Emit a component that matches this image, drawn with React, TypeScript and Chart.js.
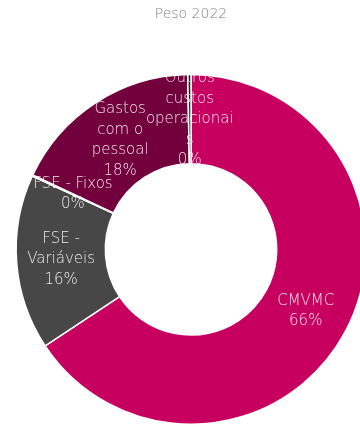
import React, { useEffect, useRef } from "react";
import { Chart, registerables } from "chart.js";

Chart.register(...registerables);

const categories = [
  "CMVMC",
  "FSE - Variáveis",
  "FSE - Fixos",
  "Gastos com o pessoal",
  "Outros custos operacionais",
];
const values = [65.7, 16.2, 0.1, 17.7, 0.3];
const percentLabels = ["66%", "16%", "0%", "18%", "0%"];
const wrappedLabels = [
  ["CMVMC"],
  ["FSE -", "Variáveis"],
  ["FSE - Fixos"],
  ["Gastos", "com o", "pessoal"],
  ["Outros", "custos", "operacionai", "s"],
];
const colors = ["#C70060", "#474747", "#E8E8E8", "#72003C", "#1E1E1E"];
const titleText = "Peso 2022";

const FONT = "'DejaVu Sans', sans-serif";

const labelPlugin = {
  id: "sliceLabels",
  afterDatasetsDraw(chart: any) {
    const ctx = chart.ctx;
    const meta = chart.getDatasetMeta(0);
    ctx.save();
    ctx.font = `200 15px ${FONT}`;
    ctx.fillStyle = "rgba(255,255,255,0.88)";
    ctx.textAlign = "center";
    ctx.textBaseline = "middle";
    const lh = 20.5;
    meta.data.forEach((arc: any, i: number) => {
      const p = arc.tooltipPosition();
      const lines = [...wrappedLabels[i], percentLabels[i]];
      const startY = p.y - ((lines.length - 1) * lh) / 2;
      lines.forEach((ln, k) => {
        ctx.fillText(ln, p.x, startY + k * lh);
      });
    });
    ctx.restore();
  },
};

export default function App() {
  const ref = useRef<HTMLCanvasElement | null>(null);
  useEffect(() => {
    if (!ref.current) return;
    const chart = new Chart(ref.current, {
      type: "doughnut",
      data: {
        labels: categories,
        datasets: [
          {
            data: values,
            backgroundColor: colors,
            borderColor: "#ffffff",
            borderWidth: 1.5,
          },
        ],
      },
      options: {
        responsive: false,
        animation: false,
        cutout: "49%",
        layout: { padding: { top: 0, bottom: 2, left: 0, right: 0 } },
        plugins: {
          legend: { display: false },
          tooltip: { enabled: false },
          title: {
            display: true,
            text: titleText,
            color: "#7E7E7E",
            font: { family: FONT, size: 14, weight: 200 as any },
            padding: { top: 6, bottom: 51 },
          },
        },
      },
      plugins: [labelPlugin],
    });
    return () => chart.destroy();
  }, []);
  return (
    <div
      style={{
        position: "absolute",
        left: 0,
        top: 0,
        width: 360,
        height: 427,
        overflow: "hidden",
        background: "#ffffff",
      }}
    >
      <canvas ref={ref} width={382} height={427} style={{ display: "block" }} />
    </div>
  );
}
